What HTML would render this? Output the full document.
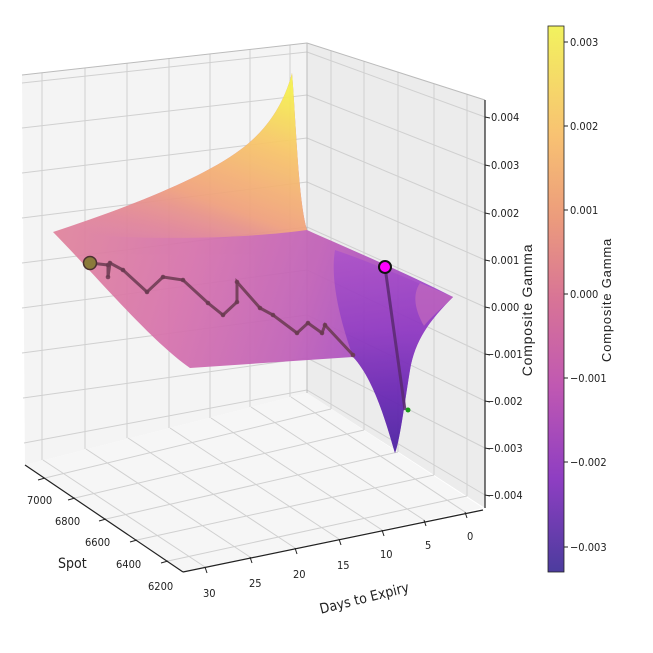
<!DOCTYPE html>
<html><head><meta charset="utf-8"><style>
body{margin:0;background:#fff;}
svg{display:block;font-family:"Liberation Sans","DejaVu Sans",sans-serif;}
.n{font-family:"Liberation Sans Narrow","DejaVu Sans Condensed","Liberation Sans",sans-serif;}
</style></head><body>
<svg width="653" height="653" viewBox="0 0 653 653" xmlns="http://www.w3.org/2000/svg">
<defs>
<linearGradient id="cb" x1="0" y1="0" x2="0" y2="1">
<stop offset="0" stop-color="#f2f25e"/>
<stop offset="0.2" stop-color="#f8c272"/>
<stop offset="0.35" stop-color="#ec9c7c"/>
<stop offset="0.5" stop-color="#d87496"/>
<stop offset="0.66" stop-color="#c058b2"/>
<stop offset="0.83" stop-color="#8e3ec2"/>
<stop offset="1" stop-color="#4c3c9e"/>
</linearGradient>
<linearGradient id="surf" x1="0" y1="0" x2="1" y2="0.3">
<stop offset="0" stop-color="#e48a96"/>
<stop offset="0.45" stop-color="#d672ac"/>
<stop offset="0.75" stop-color="#c060b8"/>
<stop offset="1" stop-color="#a048c8"/>
</linearGradient>
<linearGradient id="peak" x1="0.2" y1="1" x2="0.75" y2="0">
<stop offset="0" stop-color="#e89088" stop-opacity="0"/>
<stop offset="0.35" stop-color="#f0a07c"/>
<stop offset="0.7" stop-color="#f8c468"/>
<stop offset="1" stop-color="#f6f04e"/>
</linearGradient>
<linearGradient id="tr" x1="0" y1="0" x2="0" y2="1">
<stop offset="0" stop-color="#a848c8"/>
<stop offset="0.4" stop-color="#8a32c0"/>
<stop offset="0.7" stop-color="#6020b0"/>
<stop offset="1" stop-color="#3a189a"/>
</linearGradient>
</defs>
<!-- panes -->
<polygon points="22,75 307,43 307,393 25,465" fill="#f4f4f4"/>
<polygon points="307,43 485,100 485,508 307,393" fill="#ececec"/>
<polygon points="25,465 307,393 483,508 183,572" fill="#f6f6f6"/>
<g stroke="#d0d0d0" stroke-width="1" fill="none">
<line x1="42" y1="73" x2="42" y2="460"/><line x1="85" y1="68" x2="85" y2="449"/>
<line x1="127" y1="63" x2="127" y2="438"/><line x1="169" y1="58" x2="169" y2="428"/>
<line x1="210" y1="54" x2="210" y2="418"/><line x1="250" y1="49" x2="250" y2="407"/>
<line x1="290" y1="45" x2="290" y2="397"/>
<line x1="22" y1="83" x2="307" y2="52"/><line x1="22" y1="128" x2="307" y2="95"/>
<line x1="22" y1="173" x2="307" y2="138"/><line x1="22" y1="218" x2="307" y2="182"/>
<line x1="22" y1="263" x2="307" y2="227"/><line x1="22" y1="308" x2="307" y2="270"/>
<line x1="22" y1="353" x2="307" y2="315"/><line x1="23" y1="398" x2="307" y2="358"/>
<line x1="24" y1="443" x2="307" y2="390"/>
<line x1="307" y1="52" x2="485" y2="117"/><line x1="307" y1="95" x2="485" y2="165"/>
<line x1="307" y1="138" x2="485" y2="213"/><line x1="307" y1="182" x2="485" y2="260"/>
<line x1="307" y1="227" x2="485" y2="307"/><line x1="307" y1="270" x2="485" y2="354"/>
<line x1="307" y1="315" x2="485" y2="401"/><line x1="307" y1="358" x2="485" y2="448"/>
<line x1="307" y1="390" x2="485" y2="495"/>
<line x1="331" y1="51" x2="331" y2="409"/><line x1="364" y1="61" x2="364" y2="430"/>
<line x1="398" y1="72" x2="398" y2="452"/><line x1="434" y1="84" x2="434" y2="475"/>
<line x1="467" y1="94" x2="467" y2="496"/>
<line x1="43" y1="460" x2="205" y2="567"/><line x1="86" y1="449" x2="250" y2="557"/>
<line x1="128" y1="438" x2="295" y2="548"/><line x1="170" y1="428" x2="339" y2="539"/>
<line x1="211" y1="418" x2="382" y2="530"/><line x1="251" y1="407" x2="424" y2="520"/>
<line x1="291" y1="397" x2="465" y2="512"/>
<line x1="45" y1="478" x2="331" y2="409"/><line x1="75" y1="498" x2="364" y2="430"/>
<line x1="106" y1="519" x2="398" y2="452"/><line x1="137" y1="540" x2="434" y2="475"/>
<line x1="168" y1="561" x2="467" y2="496"/>
</g>
<g stroke="#bbb" stroke-width="1" fill="none">
<line x1="307" y1="43" x2="307" y2="393"/><line x1="22" y1="75" x2="307" y2="43"/><line x1="307" y1="43" x2="485" y2="100"/>
</g>
<g stroke="#222" stroke-width="1.2" fill="none">
<line x1="25" y1="465" x2="183" y2="572"/>
<line x1="183" y1="572" x2="483" y2="510"/>
<line x1="485" y1="100" x2="485" y2="508"/>
</g>
<g stroke="#222" stroke-width="1">
<line x1="45" y1="478" x2="38" y2="480"/><line x1="75" y1="498" x2="68" y2="500"/><line x1="106" y1="519" x2="99" y2="521"/><line x1="137" y1="540" x2="130" y2="542"/><line x1="168" y1="561" x2="161" y2="563"/>
<line x1="205" y1="567" x2="207" y2="573"/><line x1="250" y1="557" x2="252" y2="563"/><line x1="295" y1="548" x2="297" y2="554"/><line x1="339" y1="539" x2="341" y2="545"/><line x1="382" y1="530" x2="384" y2="536"/><line x1="424" y1="520" x2="426" y2="526"/><line x1="465" y1="512" x2="467" y2="518"/>
<line x1="485" y1="117" x2="490" y2="118"/><line x1="485" y1="165" x2="490" y2="166"/><line x1="485" y1="213" x2="490" y2="214"/><line x1="485" y1="260" x2="490" y2="261"/><line x1="485" y1="307" x2="490" y2="308"/><line x1="485" y1="354" x2="490" y2="355"/><line x1="485" y1="401" x2="490" y2="402"/><line x1="485" y1="448" x2="490" y2="449"/><line x1="485" y1="495" x2="490" y2="496"/>
</g>
<!-- surface -->
<g opacity="0.93">
<path d="M53,232 C120,210 200,180 240,150 C270,128 285,100 292,73 C296,120 298,200 307,230 C340,245 400,270 453,297 C430,320 415,340 410,370 C405,400 400,440 395,453 C388,430 375,380 353,357 L190,368 C150,340 100,280 53,232 Z" fill="url(#surf)"/>
<path d="M53,232 C120,210 200,180 240,150 C270,128 285,100 292,73 C296,120 298,200 307,230 C250,238 150,242 53,232 Z" fill="url(#peak)"/>
<path d="M335,250 C380,265 420,285 453,297 C430,320 415,340 410,370 C405,400 400,440 395,453 C388,430 375,380 353,357 C340,320 330,280 335,250 Z" fill="url(#tr)" opacity="0.85"/>
<path d="M420,283 L453,297 C440,310 430,318 424,326 C415,310 412,295 420,283Z" fill="#c868b8" opacity="0.6"/>
</g>
<polyline points="90,263 108,265 108,277 110,263 123,270 147,292 163,277 183,280 208,303 223,315 237,302 237,282 260,308 273,315 297,333 308,323 322,333 325,325 353,355" fill="none" stroke="#6a3a50" stroke-width="3" opacity="0.85"/>
<g fill="#6a3a50" opacity="0.85">
<circle cx="108" cy="265" r="2.3"/><circle cx="108" cy="277" r="2.3"/><circle cx="110" cy="263" r="2.3"/><circle cx="123" cy="270" r="2.3"/><circle cx="147" cy="292" r="2.3"/><circle cx="163" cy="277" r="2.3"/><circle cx="183" cy="280" r="2.3"/><circle cx="208" cy="303" r="2.3"/><circle cx="223" cy="315" r="2.3"/><circle cx="237" cy="302" r="2.3"/><circle cx="237" cy="282" r="2.3"/><circle cx="260" cy="308" r="2.3"/><circle cx="273" cy="315" r="2.3"/><circle cx="297" cy="333" r="2.3"/><circle cx="308" cy="323" r="2.3"/><circle cx="322" cy="333" r="2.3"/><circle cx="325" cy="325" r="2.3"/><circle cx="353" cy="355" r="2.3"/>
</g>
<line x1="385" y1="267" x2="405" y2="410" stroke="#5a2a70" stroke-width="3" opacity="0.85"/>
<circle cx="408" cy="410" r="2.5" fill="#1a9a1a"/>
<circle cx="90" cy="263" r="6.5" fill="#8a7a3a" stroke="#4a3030" stroke-width="1.5"/>
<circle cx="385" cy="267" r="6" fill="#ff00ff" stroke="#111" stroke-width="2"/>
<g font-size="11" fill="#222" class="n">
<text x="491" y="121">0.004</text><text x="491" y="169">0.003</text><text x="491" y="217">0.002</text><text x="491" y="264">0.001</text><text x="491" y="311">0.000</text><text x="486" y="358">−0.001</text><text x="486" y="405">−0.002</text><text x="486" y="452">−0.003</text><text x="486" y="499">−0.004</text>
<text x="27" y="504">7000</text><text x="55" y="525">6800</text><text x="85" y="546">6600</text><text x="116" y="568">6400</text><text x="148" y="590">6200</text>
<text x="203" y="597">30</text><text x="249" y="587">25</text><text x="293" y="578">20</text><text x="337" y="569">15</text><text x="380" y="558">10</text><text x="425" y="549">5</text><text x="467" y="540">0</text>
</g>
<text x="58" y="568" font-size="14" fill="#222" class="n">Spot</text>
<text x="318" y="605" font-size="14" fill="#222" class="n" transform="rotate(-14 355 597)">Days to Expiry</text>
<text x="0" y="0" font-size="14" fill="#222" letter-spacing="0.8" transform="translate(532,310) rotate(-90)" text-anchor="middle">Composite Gamma</text>
<rect x="548" y="26" width="16" height="546" fill="url(#cb)" stroke="#222" stroke-width="0.8"/>
<g stroke="#222"><line x1="564" y1="42" x2="568" y2="42"/><line x1="564" y1="126" x2="568" y2="126"/><line x1="564" y1="210" x2="568" y2="210"/><line x1="564" y1="294" x2="568" y2="294"/><line x1="564" y1="378" x2="568" y2="378"/><line x1="564" y1="462" x2="568" y2="462"/><line x1="564" y1="547" x2="568" y2="547"/></g>
<g font-size="11" fill="#222" class="n">
<text x="570" y="46">0.003</text><text x="570" y="130">0.002</text><text x="570" y="214">0.001</text><text x="570" y="298">0.000</text><text x="570" y="382">−0.001</text><text x="570" y="466">−0.002</text><text x="570" y="551">−0.003</text>
</g>
<text x="0" y="0" font-size="13" fill="#222" letter-spacing="0.8" transform="translate(611,300) rotate(-90)" text-anchor="middle">Composite Gamma</text>
</svg>
</body></html>
